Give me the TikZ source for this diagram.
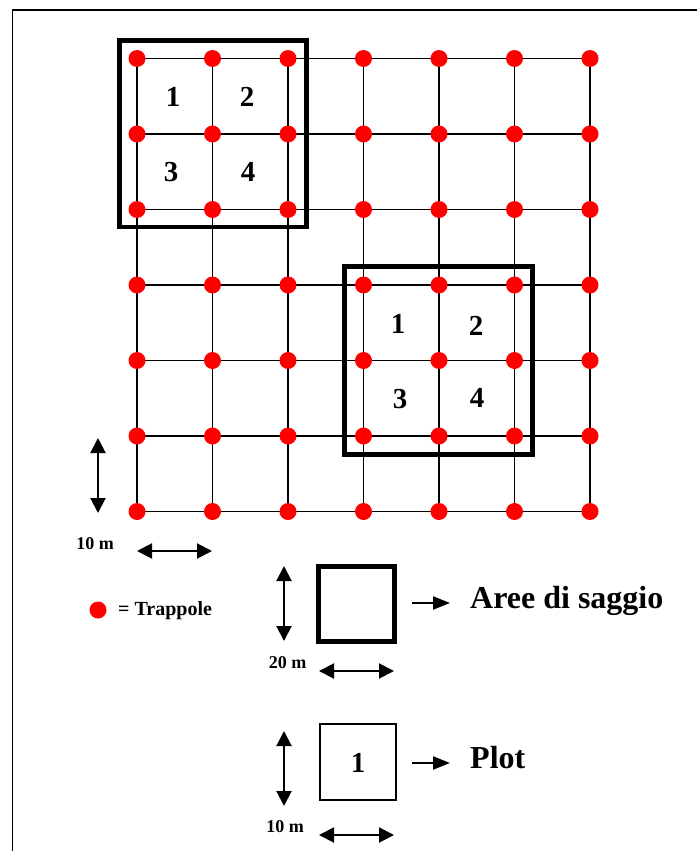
\documentclass[tikz,border=0pt]{standalone}
\usepackage{fontspec}
\setmainfont{Liberation Serif}
\usetikzlibrary{arrows.meta}
\definecolor{trapred}{RGB}{255,0,0}

\tikzset{
  trap/.style={circle,fill=trapred,inner sep=0pt,minimum size=17pt},
  gridline/.style={line width=1.8pt},
  areabox/.style={line width=4.7pt},
  plotbox/.style={line width=1.8pt},
  dimarrow/.style={line width=2pt,{Triangle[width=15pt,length=15pt]}-{Triangle[width=15pt,length=15pt]}},
  ptarrow/.style={line width=2pt,-{Triangle[width=13pt,length=17pt]}},
  num/.style={inner sep=0pt,font=\fontsize{29}{31}\selectfont\bfseries},
  dimlabel/.style={inner sep=0pt,font=\fontsize{18}{20}\selectfont\bfseries},
  bigtext/.style={inner sep=0pt,anchor=base west,font=\fontsize{32}{34}\selectfont\bfseries},
}

\begin{document}
\begin{tikzpicture}[x=1pt,y=-1pt]
    \useasboundingbox (0,0) rectangle (697,851);

    % Outer frame
    \draw[line width=1.5pt] (12.5,851) -- (12.5,10) -- (697,10);

    % Grid of traps
    \foreach \i in {0,...,6} {
        \foreach \j in {0,...,6} {
            \coordinate (g-\i-\j) at ({137+75.5*\i},{58.5+75.5*\j});
        }
    }
    \foreach \k in {0,...,6} {
        \draw[gridline] (g-0-\k) -- (g-6-\k);
        \draw[gridline] (g-\k-0) -- (g-\k-6);
    }
    \foreach \i in {0,...,6} {
        \foreach \j in {0,...,6} {
            \node[trap] (t-\i-\j) at (g-\i-\j) {};
        }
    }

    % Sample areas
    \draw[areabox] (119.5,40.5) rectangle (306.5,227);
    \node[num] (a1) at (173,97) {1};
    \node[num] (a2) at (247,97) {2};
    \node[num] (a3) at (171,172) {3};
    \node[num] (a4) at (248,172) {4};

    \draw[areabox] (344.5,266.5) rectangle (532.5,454.5);
    \node[num] (b1) at (398,324) {1};
    \node[num] (b2) at (476,326) {2};
    \node[num] (b3) at (400,399) {3};
    \node[num] (b4) at (477,398) {4};

    % Scale of the grid
    \coordinate (gv1) at (98,438);
    \coordinate (gv2) at (98,513);
    \coordinate (gh1) at (137,551);
    \coordinate (gh2) at (212,551);
    \draw[dimarrow] (gv1) -- (gv2);
    \draw[dimarrow] (gh1) -- (gh2);
    \node[dimlabel] (gl) at (95,544) {10 m};

    % Trap legend
    \node[trap] (lt) at (98,610) {};
    \node[inner sep=0pt,anchor=west,font=\fontsize{20}{22}\selectfont\bfseries] (ltl) at (118,611) {= Trappole};

    % Sample area legend
    \draw[areabox] (318.5,566.5) rectangle (394.5,641.5);
    \coordinate (av1) at (284,566);
    \coordinate (av2) at (284,641);
    \coordinate (ah1) at (319,671);
    \coordinate (ah2) at (394,671);
    \draw[dimarrow] (av1) -- (av2);
    \draw[dimarrow] (ah1) -- (ah2);
    \node[dimlabel] (al) at (287.5,663) {20 m};
    \coordinate (ap1) at (412,603);
    \coordinate (ap2) at (450,603);
    \draw[ptarrow] (ap1) -- (ap2);
    \node[bigtext] (at) at (470,608) {Aree di saggio};

    % Plot legend
    \draw[plotbox] (320,724) rectangle (396,800);
    \node[num] (p1) at (358,763) {1};
    \coordinate (pv1) at (284,731);
    \coordinate (pv2) at (284,806);
    \coordinate (ph1) at (319,835);
    \coordinate (ph2) at (394,835);
    \draw[dimarrow] (pv1) -- (pv2);
    \draw[dimarrow] (ph1) -- (ph2);
    \node[dimlabel] (pl) at (285,827) {10 m};
    \coordinate (pp1) at (412,763);
    \coordinate (pp2) at (450,763);
    \draw[ptarrow] (pp1) -- (pp2);
    \node[bigtext] (pt) at (470,768) {Plot};
\end{tikzpicture}
\end{document}
